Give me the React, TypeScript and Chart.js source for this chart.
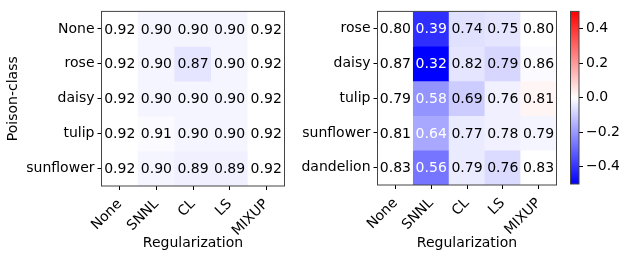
import { useEffect, useRef } from "react";
import { Chart, registerables } from "chart.js";
Chart.register(...registerables);

const regularizations = ["None", "SNNL", "CL", "LS", "MIXUP"];
const leftRows = ["None", "rose", "daisy", "tulip", "sunflower"];
const leftValues = [
  [0.92, 0.9, 0.9, 0.9, 0.92],
  [0.92, 0.9, 0.87, 0.9, 0.92],
  [0.92, 0.9, 0.9, 0.9, 0.92],
  [0.92, 0.91, 0.9, 0.9, 0.92],
  [0.92, 0.9, 0.89, 0.89, 0.92],
];
const rightRows = ["rose", "daisy", "tulip", "sunflower", "dandelion"];
const rightValues = [
  [0.8, 0.39, 0.74, 0.75, 0.8],
  [0.87, 0.32, 0.82, 0.79, 0.86],
  [0.79, 0.58, 0.69, 0.76, 0.81],
  [0.81, 0.64, 0.77, 0.78, 0.79],
  [0.83, 0.56, 0.79, 0.76, 0.83],
];
const colorbarTicks = [-0.4, -0.2, 0, 0.2, 0.4];
const colorMin = -0.5;
const colorMax = 0.5;

const FONT = "'DejaVu Sans', sans-serif";
Chart.defaults.font.family = FONT;
Chart.defaults.font.size = 14;
Chart.defaults.color = "#000";

function bwr(d: number) {
  let t = (d - colorMin) / (colorMax - colorMin);
  t = Math.max(0, Math.min(1, t));
  if (t < 0.5) {
    const v = Math.round(2 * t * 255);
    return `rgb(${v},${v},255)`;
  }
  const v = Math.round((2 - 2 * t) * 255);
  return `rgb(255,${v},${v})`;
}

const heatPlugin = {
  id: "heatText",
  afterDatasetsDraw(chart: any, _args: any, opts: any) {
    const ctx = chart.ctx;
    const values: number[][] = opts.values;
    if (values) {
      ctx.save();
      ctx.font = `14px ${FONT}`;
      ctx.textAlign = "center";
      ctx.textBaseline = "middle";
      chart.data.datasets.forEach((_ds: any, di: number) => {
        const meta = chart.getDatasetMeta(di);
        meta.data.forEach((el: any, ci: number) => {
          const p = el.getProps(["x", "y", "base"], true);
          const cy = (p.y + p.base) / 2;
          const v = values[di][ci];
          const diff = v - values[di][0];
          ctx.fillStyle = Math.abs(diff) > 0.15 ? "#fff" : "#000";
          ctx.fillText(v.toFixed(2), p.x, cy + 1);
        });
      });
      ctx.restore();
    }
    const a = chart.chartArea;
    ctx.save();
    ctx.strokeStyle = "#444";
    ctx.lineWidth = 1;
    ctx.strokeRect(a.left, a.top, a.right - a.left, a.bottom - a.top);
    ctx.restore();
  },
};

function makeHeatmap(
  canvas: HTMLCanvasElement,
  rows: string[],
  values: number[][],
  yWidth: number,
  padRight: number,
  xHeight: number,
  yTitle: string | null
) {
  const datasets = rows.map((_r, ri) => ({
    label: rows[ri],
    data: values[ri].map(() => [ri - 0.5, ri + 0.5]),
    backgroundColor: values[ri].map((v) => bwr(v - values[ri][0])),
    borderWidth: 0,
    barPercentage: 1,
    categoryPercentage: 1,
  }));
  return new Chart(canvas, {
    type: "bar",
    data: { labels: regularizations, datasets: datasets as any },
    options: {
      animation: false,
      responsive: false,
      devicePixelRatio: 1,
      layout: { padding: { top: 5, right: padRight, left: 0, bottom: 0 } },
      plugins: {
        legend: { display: false },
        tooltip: { enabled: false },
        heatText: { values },
      } as any,
      scales: {
        x: {
          stacked: true,
          offset: true,
          grid: {
            offset: false,
            drawOnChartArea: false,
            drawTicks: true,
            tickLength: 4,
            color: "#000",
          },
          border: { display: false },
          ticks: { minRotation: 45, maxRotation: 45, padding: 6, autoSkip: false },
          title: {
            display: true,
            text: "Regularization",
            padding: { top: 2, bottom: 2 },
          },
          afterFit: (s: any) => {
            s.height = xHeight;
          },
        },
        y: {
          type: "linear",
          min: -0.5,
          max: 4.5,
          reverse: true,
          stacked: false,
          grid: {
            drawOnChartArea: false,
            drawTicks: true,
            tickLength: 4,
            color: "#000",
          },
          border: { display: false },
          afterBuildTicks: (s: any) => {
            s.ticks = rows.map((_r, i) => ({ value: i }));
          },
          ticks: {
            padding: 3,
            callback: (v: any) => rows[Math.round(Number(v))] ?? "",
          },
          title: {
            display: !!yTitle,
            text: yTitle || "",
            padding: { top: 5, bottom: 0 },
          },
          afterFit: (s: any) => {
            s.width = yWidth;
          },
        },
      },
    },
    plugins: [heatPlugin],
  });
}

function makeColorbar(canvas: HTMLCanvasElement) {
  return new Chart(canvas, {
    type: "bar",
    data: {
      labels: [""],
      datasets: [
        {
          data: [[colorMin, colorMax]] as any,
          borderWidth: 0,
          barPercentage: 1,
          categoryPercentage: 1,
          backgroundColor: (c: any) => {
            const ch = c.chart;
            const a = ch.chartArea;
            if (!a) return "#fff";
            const g = ch.ctx.createLinearGradient(0, a.bottom, 0, a.top);
            g.addColorStop(0, "rgb(0,0,255)");
            g.addColorStop(0.5, "rgb(255,255,255)");
            g.addColorStop(1, "rgb(255,0,0)");
            return g;
          },
        },
      ],
    },
    options: {
      animation: false,
      responsive: false,
      devicePixelRatio: 1,
      layout: { padding: { top: 5, right: 0, left: 10.5, bottom: 70 } },
      plugins: {
        legend: { display: false },
        tooltip: { enabled: false },
        heatText: {},
      } as any,
      scales: {
        x: { display: false },
        y: {
          type: "linear",
          position: "right",
          min: colorMin,
          max: colorMax,
          grid: {
            drawOnChartArea: false,
            drawTicks: true,
            tickLength: 4,
            color: "#000",
          },
          border: { display: false },
          afterBuildTicks: (s: any) => {
            s.ticks = colorbarTicks.map((v) => ({ value: v }));
          },
          ticks: {
            padding: 3,
            callback: (v: any) => {
              const n = Number(v);
              return n < 0 ? "\u2212" + Math.abs(n).toFixed(1) : n.toFixed(1);
            },
          },
          afterFit: (s: any) => {
            s.width = 40;
          },
        },
      },
    },
    plugins: [heatPlugin],
  });
}

export default function App() {
  const leftRef = useRef<HTMLCanvasElement>(null);
  const rightRef = useRef<HTMLCanvasElement>(null);
  const cbRef = useRef<HTMLCanvasElement>(null);

  useEffect(() => {
    const c1 = makeHeatmap(leftRef.current!, leftRows, leftValues, 101.5, 15.5, 68, "Poison-class");
    const c2 = makeHeatmap(rightRef.current!, rightRows, rightValues, 87.5, 3.5, 69, null);
    const c3 = makeColorbar(cbRef.current!);
    return () => {
      c1.destroy();
      c2.destroy();
      c3.destroy();
    };
  }, []);

  return (
    <div
      style={{
        position: "absolute",
        left: 0,
        top: 0,
        width: 619,
        height: 254,
        background: "#fff",
        overflow: "hidden",
      }}
    >
      <canvas ref={leftRef} width={300} height={254} style={{ position: "absolute", left: 0, top: 0 }} />
      <canvas ref={rightRef} width={270} height={254} style={{ position: "absolute", left: 290, top: 0 }} />
      <canvas ref={cbRef} width={59} height={254} style={{ position: "absolute", left: 560, top: 0 }} />
    </div>
  );
}
